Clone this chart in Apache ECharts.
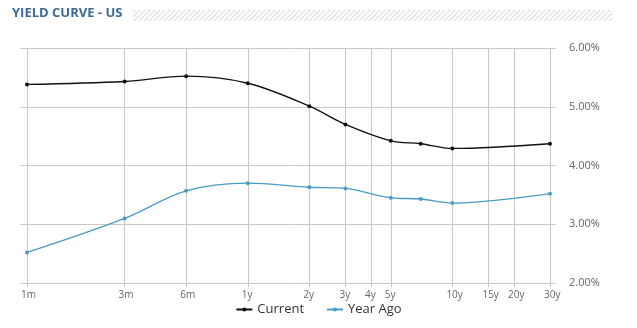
<!DOCTYPE html>
<html><head><meta charset="utf-8">
<script src="https://cdn.jsdelivr.net/npm/echarts@6/dist/echarts.min.js"></script>
<style>html,body{margin:0;padding:0;background:#fff}#c{width:637px;height:328px}</style>
</head><body><div id="c"></div>
<script>
// maturities in months
var maturities = [1, 3, 6, 12, 24, 36, 60, 84, 120, 360];
var current = [5.38, 5.43, 5.52, 5.40, 5.01, 4.70, 4.42, 4.37, 4.29, 4.37];
var yearAgo = [2.52, 3.10, 3.57, 3.70, 3.63, 3.61, 3.45, 3.43, 3.36, 3.52];
var tickMonths = [1, 3, 6, 12, 24, 36, 48, 60, 120, 180, 240, 360];
var tickLabels = ['1m', '3m', '6m', '1y', '2y', '3y', '4y', '5y', '10y', '15y', '20y', '30y'];

function pair(vals){ return maturities.map(function(m,i){ return [m, vals[i]]; }); }

var pc = document.createElement('canvas'); pc.width = 5; pc.height = 5;
var g = pc.getContext('2d'); g.fillStyle = '#fff'; g.fillRect(0,0,5,5);
g.strokeStyle = '#dcdcdc'; g.lineWidth = 1.2;
g.beginPath(); g.moveTo(-1,6); g.lineTo(6,-1); g.stroke();
g.beginPath(); g.moveTo(-1,1); g.lineTo(1,-1); g.stroke();
g.beginPath(); g.moveTo(4,6); g.lineTo(6,4); g.stroke();

var chart = echarts.init(document.getElementById('c'));
chart.setOption({
  animation: false,
  backgroundColor: '#fff',
  graphic: [
    {type: 'text', left: 12, top: 7, style: {text: 'YIELD CURVE - US', font: 'bold 13px "Open Sans"', fill: '#3b6b94'}},
    {type: 'rect', shape: {x: 133, y: 10, width: 479, height: 11}, style: {fill: {image: pc, repeat: 'repeat'}}}
  ],
  legend: {
    bottom: 7, left: 'center', itemWidth: 16, itemHeight: 5, itemGap: 22,
    textStyle: {fontFamily: 'Open Sans', fontSize: 13, color: '#333'},
    data: ['Current', 'Year Ago']
  },
  grid: {left: 27, right: 87, top: 48, bottom: 45},
  xAxis: {
    type: 'log', logBase: 10, min: 1, max: 360,
    axisLine: {show: false},
    axisTick: {show: true, customValues: tickMonths, length: 4, lineStyle: {color: '#c8c8c8'}},
    splitLine: {show: true, lineStyle: {color: '#c8c8c8', width: 1}},
    axisLabel: {
      customValues: tickMonths, align: 'left', margin: 7, padding: [0,0,0,-6],
      fontFamily: 'Open Sans', fontSize: 10, color: '#666',
      formatter: function(v){ var i = tickMonths.indexOf(Math.round(v)); return i >= 0 ? tickLabels[i] : ''; }
    }
  },
  yAxis: [{
    type: 'value', position: 'right', min: 2, max: 6, interval: 1,
    axisLine: {show: false},
    axisTick: {show: true, length: 6, lineStyle: {color: '#c8c8c8'}},
    splitLine: {lineStyle: {color: '#c8c8c8', width: 1}},
    axisLabel: {margin: 19, fontFamily: 'Open Sans', fontSize: 11, color: '#666',
      formatter: function(v){ return v.toFixed(2) + '%'; }}
  }, {
    type: 'value', position: 'left', min: 2, max: 6, interval: 1,
    axisLine: {show: false}, splitLine: {show: false}, axisLabel: {show: false},
    axisTick: {show: true, length: 7, lineStyle: {color: '#c8c8c8'}}
  }],
  series: [
    {name: 'Current', type: 'line', data: pair(current), smooth: 0.35, symbol: 'circle', symbolSize: 4,
     color: '#111', lineStyle: {width: 1.3, color: '#111'}, itemStyle: {color: '#111'}},
    {name: 'Year Ago', type: 'line', data: pair(yearAgo), smooth: 0.35, symbol: 'circle', symbolSize: 4,
     color: '#4a9cc4', lineStyle: {width: 1.3, color: '#4a9cc4'}, itemStyle: {color: '#4a9cc4'}}
  ]
});
</script></body></html>
